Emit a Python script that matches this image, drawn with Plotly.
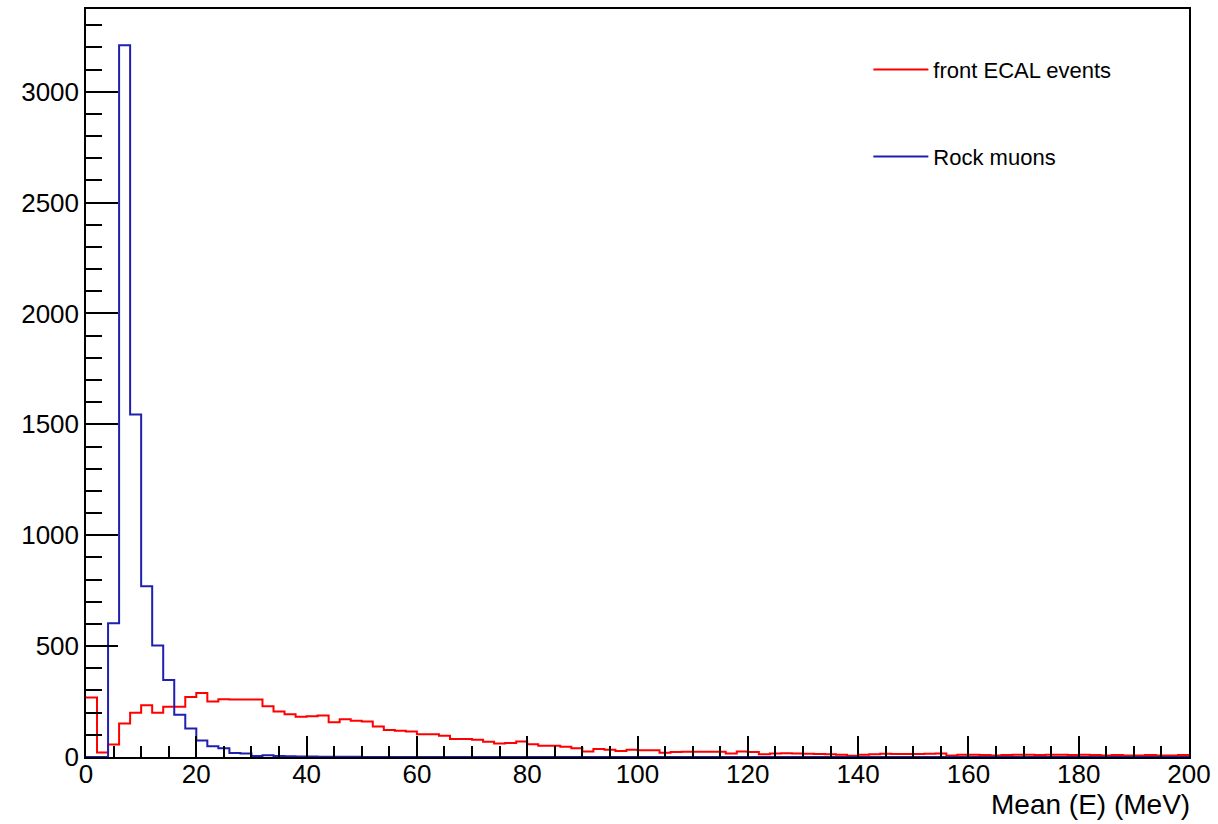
import numpy as np
import plotly.graph_objects as go

# Histogram definition: 100 bins of width 2 MeV over [0, 200]
bin_low = 0.0
bin_high = 200.0
n_bins = 100

front_ecal_counts = [
    268, 20, 56, 151, 199, 233, 199, 227, 227, 271,
    289, 250, 260, 259, 259, 259, 229, 205, 193, 182,
    184, 187, 157, 170, 163, 160, 137, 122, 118, 115,
    103, 103, 96, 81, 81, 78, 69, 61, 63, 70,
    57, 51, 51, 46, 40, 25, 36, 33, 27, 33,
    31, 31, 19, 22, 24, 24, 24, 24, 16, 25,
    22, 12, 16, 17, 16, 15, 13, 12, 10, 6,
    10, 12, 15, 13, 13, 13, 15, 16, 7, 10,
    10, 9, 7, 9, 10, 10, 9, 10, 10, 9,
    10, 9, 7, 9, 7, 7, 9, 7, 7, 9,
]

rock_muon_counts = [
    0, 0, 603, 3210, 1545, 770, 503, 347, 191, 128,
    74, 48, 40, 18, 16, 5, 8, 5, 3, 2,
    2, 1, 1, 1, 1, 0, 0, 0, 0, 0,
    0, 0, 0, 0, 0, 0, 0, 0, 0, 0,
    0, 0, 0, 0, 0, 0, 0, 0, 0, 0,
    0, 0, 0, 0, 0, 0, 0, 0, 0, 0,
    0, 0, 0, 0, 0, 0, 0, 0, 0, 0,
    0, 0, 0, 0, 0, 0, 0, 0, 0, 0,
    0, 0, 0, 0, 0, 0, 0, 0, 0, 0,
    0, 0, 0, 0, 0, 0, 0, 0, 0, 0,
]

series_names = ["front ECAL events", "Rock muons"]
x_title = "Mean (E) (MeV)"

edges = np.linspace(bin_low, bin_high, n_bins + 1)


def step_xy(counts):
    x = list(edges)
    y = list(counts) + [counts[-1]]
    return x, y


FONT = "Liberation Sans, Arial, Helvetica, sans-serif"

fig = go.Figure()

xr, yr = step_xy(front_ecal_counts)
fig.add_trace(go.Scatter(
    x=xr, y=yr, mode="lines", line=dict(color="#ff0000", width=2, shape="hv"),
    name=series_names[0], legend="legend", showlegend=True,
))
xb, yb = step_xy(rock_muon_counts)
fig.add_trace(go.Scatter(
    x=xb, y=yb, mode="lines", line=dict(color="#2020b0", width=2, shape="hv"),
    name=series_names[1], legend="legend2", showlegend=True,
))

fig.update_layout(
    width=1218, height=824,
    margin=dict(l=86, r=28, t=7, b=67),
    paper_bgcolor="white", plot_bgcolor="white",
    font=dict(family=FONT, color="black"),
    showlegend=True,
    legend=dict(x=0.7093, y=0.9187, xanchor="left", yanchor="middle",
                bgcolor="rgba(0,0,0,0)", font=dict(size=22, family=FONT),
                itemwidth=55, visible=True),
    legend2=dict(x=0.7093, y=0.8027, xanchor="left", yanchor="middle",
                 bgcolor="rgba(0,0,0,0)", font=dict(size=22, family=FONT),
                 itemwidth=55, visible=True),
)

fig.update_xaxes(
    range=[bin_low, bin_high], showgrid=False, zeroline=False,
    showline=True, linecolor="black", linewidth=1.5, mirror=True,
    ticks="inside", ticklen=21, tickwidth=1.5, tickcolor="black",
    dtick=20, tick0=0, ticklabelstandoff=-7,
    tickfont=dict(size=26, family=FONT, color="black"),
    minor=dict(dtick=5, ticklen=11, tickwidth=1.5, tickcolor="black", ticks="inside"),
)
fig.update_yaxes(
    range=[0, 3373], showgrid=False, zeroline=False,
    showline=True, linecolor="black", linewidth=1.5, mirror=True,
    ticks="inside", ticklen=32, tickwidth=1.5, tickcolor="black",
    dtick=500, tick0=0,
    tickfont=dict(size=26, family=FONT, color="black"),
    minor=dict(dtick=100, ticklen=16, tickwidth=1.5, tickcolor="black", ticks="inside"),
)

fig.add_annotation(
    text=x_title, xref="paper", yref="paper", x=1.0, y=-0.064,
    xanchor="right", yanchor="middle", showarrow=False, xshift=3,
    font=dict(size=28, family=FONT, color="black"),
)

fig.write_html("out.html")
